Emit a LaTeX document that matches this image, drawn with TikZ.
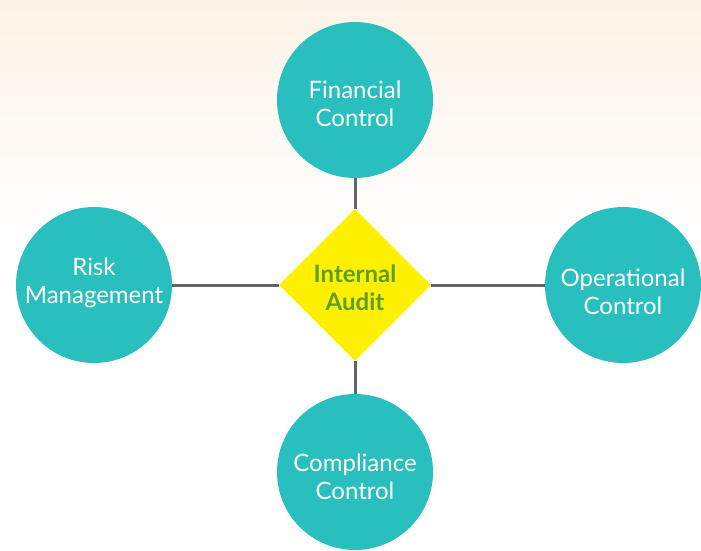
\documentclass[tikz,border=0pt]{standalone}
\usepackage{fontspec}
\setmainfont{Lato}
\usetikzlibrary{shapes.geometric}
\definecolor{teal1}{RGB}{42,191,191}
\definecolor{yel}{RGB}{255,240,0}
\definecolor{grn}{RGB}{92,158,49}
\definecolor{peach}{RGB}{254,243,231}
\definecolor{linec}{RGB}{100,100,104}
\newcommand\lbl[2]{\raisebox{#1}[0pt][0pt]{\begin{tabular}{@{}c@{}}#2\end{tabular}}}
\begin{document}
\begin{tikzpicture}[x=1pt,y=-1pt,
  ctrl/.style={circle,fill=teal1,minimum size=156pt,inner sep=0pt,text=white,
    font=\fontsize{24}{28}\selectfont},
  hub/.style={diamond,fill=yel,minimum size=152pt,inner sep=0pt,text=grn,
    font=\fontsize{24}{28}\selectfont\bfseries},
  link/.style={draw=linec,line width=3pt}]
\shade[top color=peach,bottom color=white] (0,0) rectangle (701,250);
\fill[white] (0,250) rectangle (701,551);
\useasboundingbox (0,0) rectangle (701,551);
\node[hub] (ia) at (355,285) {\lbl{-12pt}{Internal\\Audit}};
\node[ctrl] (fc) at (355,100) {\lbl{-13pt}{Financial\\Control}};
\node[ctrl] (oc) at (623,285) {\lbl{-16pt}{Operational\\Control}};
\node[ctrl] (rm) at (94,285) {\lbl{-5pt}{Risk\\Management}};
\node[ctrl] (cc) at (355,472) {\lbl{-14.5pt}{Compliance\\Control}};
\draw[link] (fc) -- (ia);
\draw[link] (oc) -- (ia);
\draw[link] (rm) -- (ia);
\draw[link] (cc) -- (ia);
\end{tikzpicture}
\end{document}
